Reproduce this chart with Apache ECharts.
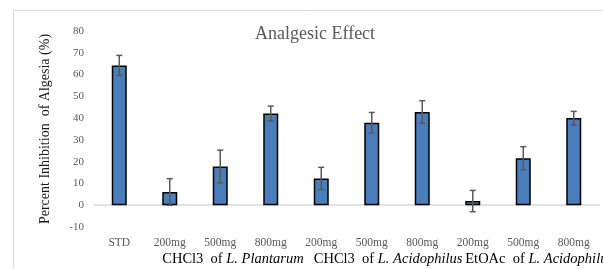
<!DOCTYPE html>
<html>
<head>
    <meta charset="UTF-8">
    <title>Analgesic Effect</title>
    <script src="https://cdn.jsdelivr.net/npm/echarts@6/dist/echarts.min.js"></script>
    <style>
        html, body { margin: 0; padding: 0; background: #fff; }
        #chart { width: 603px; height: 269px; }
    </style>
</head>
<body>
<div id="chart"></div>
<script>
    // categories (dose) and values
    var categories = ['STD', '200mg', '500mg', '800mg', '200mg', '500mg', '800mg', '200mg', '500mg', '800mg'];
    var inhibition = [64.2, 6.1, 17.8, 42.1, 12.3, 37.9, 42.8, 1.9, 21.6, 40.0];
    var errors = [4.6, 6.1, 7.5, 3.4, 5.1, 4.7, 5.2, 4.9, 5.3, 3.1];
    // group captions, left aligned from the category before each group
    var groupPrefix = ['CHCl3  of ', '', '', 'CHCl3  of ', '', '', 'EtOAc  of ', '', '', ''];
    var groupItalic = ['L. Plantarum', '', '', 'L. Acidophilus', '', '', 'L. Acidophilus', '', '', ''];
    var yTicks = { min: -10, max: 80, interval: 10 };

    var serif = '"Liberation Serif", "DejaVu Serif", serif';
    var chart = echarts.init(document.getElementById('chart'));

    var errData = inhibition.map(function (v, i) {
        return [i, v - errors[i], v + errors[i]];
    });

    chart.setOption({
        animation: false,
        title: {
            text: 'Analgesic Effect',
            left: 250,
            top: 20,
            textStyle: { fontFamily: serif, fontSize: 18, fontWeight: 'normal', color: '#595959' }
        },
        graphic: [{
            type: 'rect',
            shape: { x: 13.5, y: 10.5, width: 620, height: 300 },
            style: { fill: 'none', stroke: '#d9d9d9', lineWidth: 1 },
            silent: true
        }],
        grid: { left: 94, right: 4, top: 31, bottom: 42, outerBoundsMode: 'none', containLabel: false },
        xAxis: [{
            type: 'category',
            data: categories,
            axisLine: { onZero: true, lineStyle: { color: '#d9d9d9', width: 1.5 } },
            axisTick: { show: false },
            axisLabel: {
                interval: 0, fontFamily: serif, fontSize: 11.5, color: '#595959',
                margin: 10
            },
            position: 'bottom'
        }, {
            type: 'category',
            data: categories.map(function (c, i) { return i; }),
            position: 'bottom',
            offset: 17,
            axisLine: { show: false },
            axisTick: { show: false },
            axisLabel: {
                interval: 0,
                hideOverlap: false,
                align: 'left',
                padding: [0, 0, 0, 43],
                formatter: function (v, i) {
                    if (!groupPrefix[i]) return '';
                    return groupPrefix[i] + '{it|' + groupItalic[i] + '}';
                },
                fontFamily: serif, fontSize: 14.5, color: '#000',
                rich: { it: { fontFamily: serif, fontSize: 14.5, fontStyle: 'italic', color: '#000' } }
            }
        }],
        yAxis: {
            type: 'value',
            min: yTicks.min,
            max: yTicks.max,
            interval: yTicks.interval,
            name: 'Percent Inhibition  of Algesia (%)',
            nameLocation: 'middle',
            nameGap: 42,
            nameTextStyle: { fontFamily: serif, fontSize: 14, color: '#1a1a1a' },
            splitLine: { show: false },
            axisLine: { show: false },
            axisTick: { show: false },
            axisLabel: { fontFamily: serif, fontSize: 11, color: '#595959', margin: 10 }
        },
        series: [{
            type: 'bar',
            data: inhibition,
            barWidth: 15,
            itemStyle: { color: '#4a7ebb', borderColor: '#000', borderWidth: 1.5 }
        }, {
            type: 'custom',
            data: errData,
            z: 10,
            renderItem: function (params, api) {
                var lo = api.coord([api.value(0), api.value(1)]);
                var hi = api.coord([api.value(0), api.value(2)]);
                var w = 3;
                var st = { stroke: '#595959', lineWidth: 1.5 };
                return {
                    type: 'group',
                    children: [
                        { type: 'line', shape: { x1: lo[0], y1: lo[1], x2: hi[0], y2: hi[1] }, style: st },
                        { type: 'line', shape: { x1: lo[0] - w, y1: lo[1], x2: lo[0] + w, y2: lo[1] }, style: st },
                        { type: 'line', shape: { x1: hi[0] - w, y1: hi[1], x2: hi[0] + w, y2: hi[1] }, style: st }
                    ]
                };
            }
        }]
    });
</script>
</body>
</html>
